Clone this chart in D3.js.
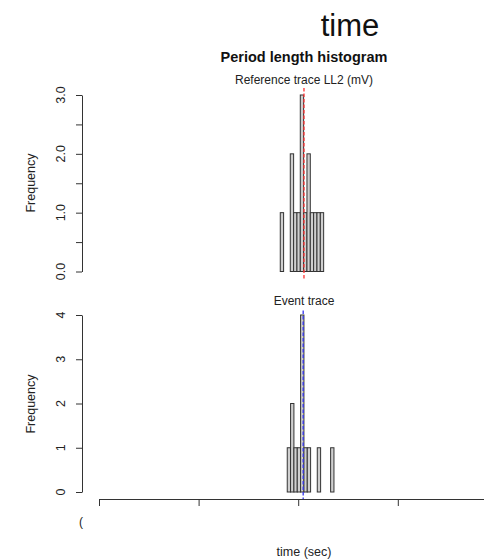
<!DOCTYPE html>
<html>
<head>
<meta charset="utf-8">
<script src="https://cdn.jsdelivr.net/npm/d3@7"></script>
<style>
  body { margin: 0; background: #fff; }
  svg { font-family: "Liberation Sans", Arial, Helvetica, sans-serif; }
</style>
</head>
<body>
<div id="chart"></div>
<script>
(function(){
  'use strict';

  // data
  var binWidth = 0.0335;
  var refStart = 1.82;
  var refCounts = [1, 0, 0, 2, 1, 1, 3, 1, 2, 1, 1, 1, 1];
  var evtStart = 1.89;
  var evtCounts = [1, 2, 1, 1, 4, 1, 1, 0, 0, 1, 0, 0, 0, 1];
  var refMean = 2.058;
  var evtMean = 2.05;
  var xTicks = [0, 1, 2, 3, 4];
  var refTicks = [0, 0.5, 1, 1.5, 2, 2.5, 3];
  var refLabels = [0, 1, 2, 3];
  var evtTicks = [0, 1, 2, 3, 4];

  var w = 484, h = 560;
  var svg = d3.select('#chart').append('svg')
    .attr('width', w)
    .attr('height', h);

  var x = d3.scaleLinear().domain([0, 4]).range([99, 497.4]);
  var yRef = d3.scaleLinear().domain([0, 3]).range([271.5, 95]);
  var yEvt = d3.scaleLinear().domain([0, 4]).range([492, 315]);

  function bins(start, counts) {
    return counts.map(function(c, i) {
      return {x0: start + i * binWidth, x1: start + (i + 1) * binWidth, n: c};
    });
  }

  function panel(data, y, ticks, labels, fmt, mean, color, yTopVal, yBotVal, sub, subY, labY) {
    var g = svg.append('g');

    g.selectAll('rect')
      .data(data)
      .enter()
      .append('rect')
      .attr('x', function(d) { return x(d.x0); })
      .attr('width', function(d) { return x(d.x1) - x(d.x0); })
      .attr('y', function(d) { return y(d.n); })
      .attr('height', function(d) { return y(0) - y(d.n); })
      .style('fill', '#cfcfcf')
      .style('stroke', '#333')
      .style('stroke-width', 1);

    g.append('line')
      .attr('x1', x(mean)).attr('x2', x(mean))
      .attr('y1', y(yTopVal)).attr('y2', y(yBotVal))
      .style('stroke', color)
      .style('stroke-width', 1.3)
      .style('stroke-dasharray', '3.5,2');

    var axis = d3.axisLeft(y)
      .tickValues(ticks)
      .tickSize(6)
      .tickSizeOuter(0)
      .tickFormat('');
    var ag = g.append('g')
      .attr('transform', 'translate(82,0)')
      .call(axis);
    ag.selectAll('path, line').style('stroke', '#333');

    g.selectAll('.ylab')
      .data(labels)
      .enter()
      .append('text')
      .attr('class', 'ylab')
      .attr('transform', function(d) { return 'translate(65,' + y(d) + ') rotate(-90)'; })
      .attr('text-anchor', 'middle')
      .style('font-size', '12.5px')
      .style('fill', '#222')
      .text(fmt);

    g.append('text')
      .attr('transform', 'translate(34.5,' + labY + ') rotate(-90)')
      .attr('text-anchor', 'middle')
      .style('font-size', '12.5px')
      .style('fill', '#222')
      .text('Frequency');

    g.append('text')
      .attr('x', 304).attr('y', subY)
      .attr('text-anchor', 'middle')
      .style('font-size', '12px')
      .style('fill', '#222')
      .text(sub);
  }

  panel(bins(refStart, refCounts), yRef, refTicks, refLabels, d3.format('.1f'),
    refMean, '#f33', 3.12, -0.12, 'Reference trace LL2 (mV)', 84, 183);
  panel(bins(evtStart, evtCounts), yEvt, evtTicks, evtTicks, d3.format('d'),
    evtMean, '#33e', 4.1, -0.16, 'Event trace', 305, 404);

  var xAxis = d3.axisBottom(x)
    .tickValues(xTicks)
    .tickSize(7)
    .tickSizeOuter(0)
    .tickFormat('');
  var xg = svg.append('g')
    .attr('transform', 'translate(0,499)')
    .call(xAxis);
  xg.selectAll('path, line').style('stroke', '#333');

  svg.append('text')
    .attr('x', 81).attr('y', 526)
    .attr('text-anchor', 'middle')
    .style('font-size', '12px')
    .style('fill', '#222')
    .text('(');

  svg.append('text')
    .attr('x', 304).attr('y', 556)
    .attr('text-anchor', 'middle')
    .style('font-size', '12.5px')
    .style('fill', '#222')
    .text('time (sec)');

  svg.append('text')
    .attr('x', 350).attr('y', 36)
    .attr('text-anchor', 'middle')
    .style('font-size', '31px')
    .style('fill', '#111')
    .text('time');

  svg.append('text')
    .attr('x', 304).attr('y', 62)
    .attr('text-anchor', 'middle')
    .style('font-size', '14.5px')
    .style('font-weight', 'bold')
    .style('fill', '#111')
    .text('Period length histogram');

}());
</script>
</body>
</html>
